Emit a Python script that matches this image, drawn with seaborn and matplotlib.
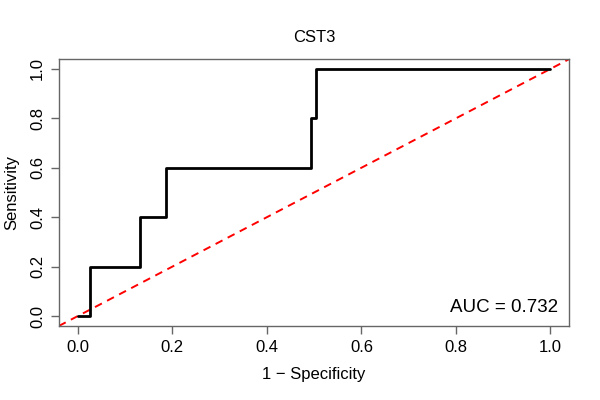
import matplotlib
matplotlib.use("Agg")
import matplotlib.pyplot as plt
import seaborn as sns
import pandas as pd

# ROC curve points (1 - specificity, sensitivity)
fpr = [0.0, 0.025, 0.025, 0.132, 0.132, 0.186, 0.186, 0.493, 0.493, 0.504, 0.504, 1.0]
tpr = [0.0, 0.0, 0.2, 0.2, 0.4, 0.4, 0.6, 0.6, 0.8, 0.8, 1.0, 1.0]
ticks = [0.0, 0.2, 0.4, 0.6, 0.8, 1.0]
tick_labels = ["0.0", "0.2", "0.4", "0.6", "0.8", "1.0"]
title = "CST3"
auc_label = "AUC = 0.732"

sns.set_theme(style="white")
plt.rcParams['font.family'] = ['Liberation Sans', 'DejaVu Sans']

df = pd.DataFrame({"fpr": fpr, "tpr": tpr})

fig = plt.figure(figsize=(6, 4), dpi=100)
ax = fig.add_axes([0.098, 0.185, 0.851, 0.6675])

ax.axline((0, 0), slope=1, color="#ff0000", lw=1.4, ls=(0, (4, 3)), zorder=1)
sns.lineplot(data=df, x="fpr", y="tpr", sort=False, estimator=None,
             color="black", lw=2.0, ax=ax, zorder=2)

ax.set_xlim(-0.04, 1.04)
ax.set_ylim(-0.04, 1.04)
ax.set_xticks(ticks)
ax.set_xticklabels(tick_labels)
ax.set_yticks(ticks)
ax.set_yticklabels(tick_labels, rotation=90, va="center")
ax.tick_params(axis="both", which="both", direction="out", length=6, width=1,
               color="#666666", labelsize=12, pad=4, labelcolor="black",
               bottom=True, left=True)
for s in ax.spines.values():
    s.set_color("#666666")
    s.set_linewidth(1.0)

ax.set_xlabel("1 \u2212 Specificity", fontsize=12, labelpad=9, color="black")
ax.set_ylabel("Sensitivity", fontsize=12, labelpad=8, color="black")
ax.set_title(title, fontsize=12, pad=12, color="black")
ax.text(1.016, 0.017, auc_label, ha="right", va="baseline", fontsize=13.5,
        color="black")

fig.savefig("out.png", dpi=100)
